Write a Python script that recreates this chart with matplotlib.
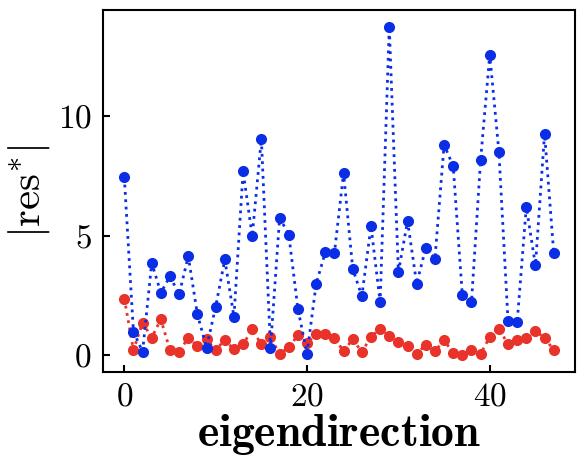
import numpy as np
import matplotlib
matplotlib.use("Agg")
import matplotlib.pyplot as plt

plt.rcParams['font.family'] = 'serif'
plt.rcParams['font.serif'] = ['cmr10']
plt.rcParams['mathtext.fontset'] = 'cm'
plt.rcParams['axes.formatter.use_mathtext'] = True

# |res*| por direccion propia
blue_vals = [7.43, 0.99, 0.15, 3.86, 2.61, 3.3, 2.54, 4.14, 1.71, 0.32,
             2.03, 4.0, 1.61, 7.68, 4.97, 9.04, 0.32, 5.74, 5.04, 1.94,
             0.07, 2.99, 4.3, 4.28, 7.61, 3.61, 2.47, 5.39, 2.22, 13.72,
             3.47, 5.6, 2.99, 4.49, 4.03, 8.79, 7.89, 2.5, 2.22, 8.17,
             12.54, 8.49, 1.43, 1.39, 6.2, 3.75, 9.25, 4.28]
red_vals = [2.37, 0.22, 1.36, 0.74, 1.5, 0.22, 0.14, 0.74, 0.39, 0.67,
            0.22, 0.64, 0.25, 0.46, 1.08, 0.46, 0.78, 0.04, 0.35, 0.83,
            0.53, 0.87, 0.9, 0.71, 0.18, 0.67, 0.14, 0.78, 1.11, 0.81,
            0.56, 0.39, 0.07, 0.44, 0.18, 0.62, 0.11, 0.0, 0.22, 0.07,
            0.76, 1.12, 0.46, 0.64, 0.71, 1.01, 0.74, 0.21]
idx = np.arange(len(blue_vals))

fig = plt.figure(figsize=(5.81, 4.59), dpi=100)
ax = fig.add_axes([0.177, 0.19, 0.813, 0.788])

ax.plot(idx, red_vals, ':o', color='#e8322a', ms=7, lw=2)
ax.plot(idx, blue_vals, ':o', color='#0a2ee6', ms=7, lw=2)

ax.set_xticks([0, 20, 40])
ax.set_yticks([0, 5, 10])
ax.tick_params(direction='in', length=5, width=1.5, labelsize=24, pad=8)
for s in ax.spines.values():
    s.set_linewidth(1.5)

ax.set_xlabel(r'$\mathbf{eigendirection}$', fontsize=33, labelpad=0)
ax.set_ylabel(r'$|\mathrm{res}^{*}|$', fontsize=31, labelpad=4)

plt.savefig('out.png', dpi=100)
